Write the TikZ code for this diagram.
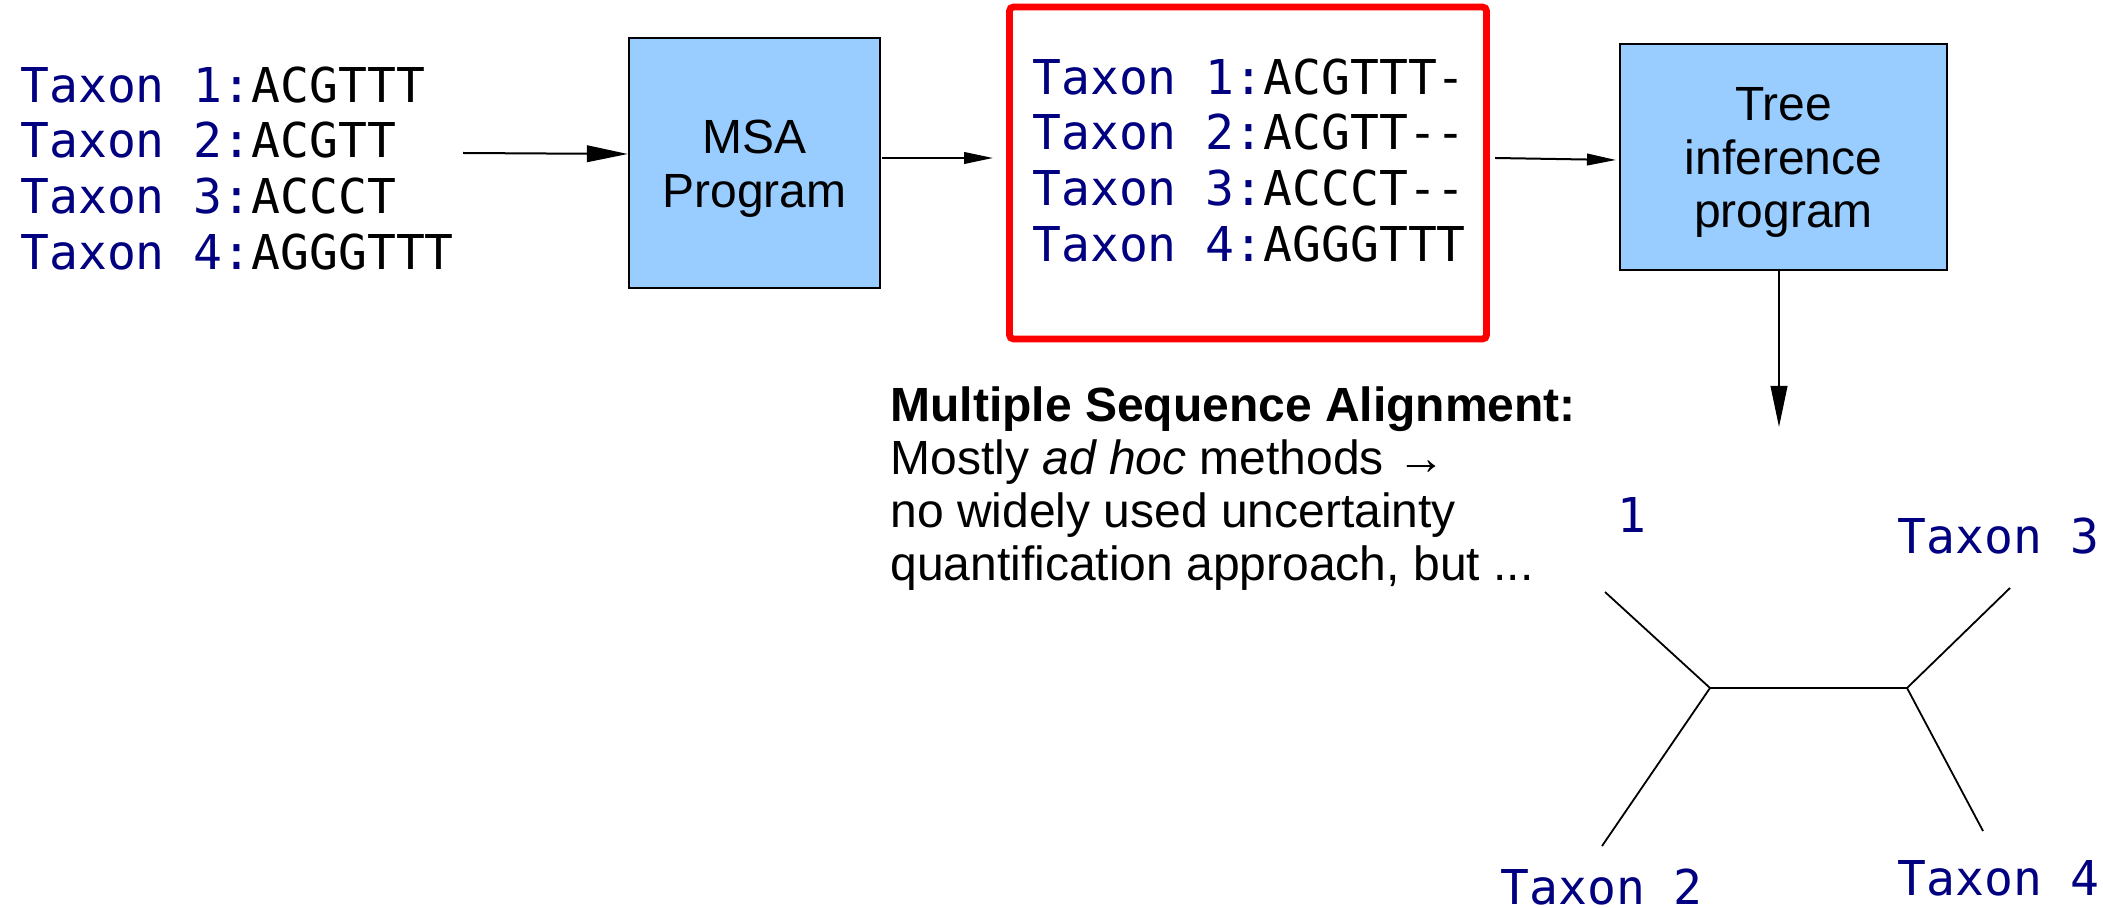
\documentclass[tikz,border=0pt]{standalone}
\usepackage{fontspec}
\setmainfont{Liberation Sans}
\newfontfamily\seqfont{DejaVu Sans Mono}
\usetikzlibrary{arrows.meta}
\definecolor{taxblue}{RGB}{0,0,128}
\definecolor{boxblue}{RGB}{153,204,255}
\definecolor{alnred}{RGB}{255,0,0}
\newcommand{\tx}[1]{\textcolor{taxblue}{#1}}

\begin{document}
\begin{tikzpicture}[x=0.5pt,y=-0.5pt,
  seqline/.style={font=\seqfont\fontsize{24}{27.85}\selectfont, inner sep=0pt, anchor=base west},
  taxlabel/.style={font=\seqfont\fontsize{24}{27.85}\selectfont, text=taxblue, inner sep=0pt, anchor=base west},
  noteline/.style={font=\fontsize{24}{26.75}\selectfont, inner sep=0pt, anchor=base west},
  progbox/.style={draw=black, line width=1.2pt, fill=boxblue, inner sep=0pt},
  progtext/.style={inner sep=0pt, align=center, font=\fontsize{24}{26.8}\selectfont, yshift=-2.75pt},
  alnbox/.style={draw=alnred, line width=3.4pt, rounded corners=2pt, inner sep=0pt,
    minimum width=238.5pt, minimum height=166pt},
  bigarrow/.style={-{Triangle[length=20.5pt,width=8.3pt]}, line width=1pt},
  smallarrow/.style={-{Triangle[length=14.5pt,width=5.8pt]}, line width=1pt},
  branch/.style={line width=0.9pt}
]
\useasboundingbox (0,0) rectangle (2103,908);

% unaligned input sequences
\node[seqline] (in1) at (20,103) {\tx{Taxon 1:}ACGTTT};
\node[seqline] (in2) at (20,158) {\tx{Taxon 2:}ACGTT};
\node[seqline] (in3) at (20,214) {\tx{Taxon 3:}ACCCT};
\node[seqline] (in4) at (20,270) {\tx{Taxon 4:}AGGGTTT};
\coordinate (inout) at (463,153);

% alignment program
\node[progbox, minimum width=125.5pt, minimum height=125pt] (msa) at (754.5,163) {};
\node[progtext] (msatext) at (msa.center) {MSA\\Program};

% aligned sequences
\node[alnbox] (aln) at (1248,173) {};
\node[seqline] (al1) at (1032,95) {\tx{Taxon 1:}ACGTTT-};
\node[seqline] (al2) at (1032,150) {\tx{Taxon 2:}ACGTT--};
\node[seqline] (al3) at (1032,206) {\tx{Taxon 3:}ACCCT--};
\node[seqline] (al4) at (1032,262) {\tx{Taxon 4:}AGGGTTT};

% tree inference program
\node[progbox, minimum width=163.5pt, minimum height=113pt] (tree) at (1783.5,157) {};
\node[progtext] (treetext) at (tree.center) {Tree\\inference\\program};

% flow between the stages
\coordinate (msaout) at (882,158);
\coordinate (alnin) at (993,158);
\coordinate (alnout) at (1495,158);
\coordinate (treein) at (1616,160);
\coordinate (treeout) at (1779,271);
\coordinate (treetip) at (1779,427);
\draw[bigarrow] (inout) -- (msa.west |- 0,154);
\draw[smallarrow] (msaout) -- (alnin);
\draw[smallarrow] (alnout) -- (treein);
\draw[bigarrow] (treeout) -- (treetip);

% explanatory note
\node[noteline] (note1) at (890,422) {\textbf{Multiple Sequence Alignment:}};
\node[noteline] (note2) at (890,475) {Mostly \textit{ad hoc} methods \textrightarrow};
\node[noteline] (note3) at (890,528) {no widely used uncertainty};
\node[noteline] (note4) at (890,581) {quantification approach, but ...};

% resulting unrooted tree
\coordinate (nl) at (1710,688);
\coordinate (nr) at (1907,688);
\coordinate (t1) at (1605,592);
\coordinate (t2) at (1602,846);
\coordinate (t3) at (2010,588);
\coordinate (t4) at (1983,831);
\draw[branch] (t1) -- (nl) -- (t2);
\draw[branch] (nl) -- (nr);
\draw[branch] (t3) -- (nr) -- (t4);

\node[taxlabel] (lab1) at (1617,532) {1};
\node[taxlabel] (lab3) at (1897,553) {Taxon 3};
\node[taxlabel] (lab2) at (1500,904) {Taxon 2};
\node[taxlabel] (lab4) at (1897,895) {Taxon 4};
\end{tikzpicture}
\end{document}
